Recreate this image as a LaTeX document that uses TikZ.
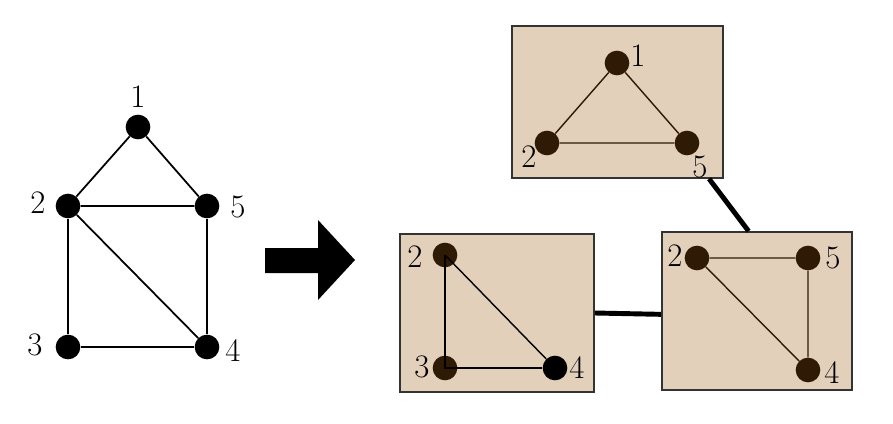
\documentclass[tikz,border=0pt]{standalone}
\usetikzlibrary{positioning}
\definecolor{tan}{HTML}{E3D0BA}
\definecolor{bark}{HTML}{2E1A05}

\begin{document}
\begin{tikzpicture}[
    x=0.03cm, y=-0.03cm,
    vtx/.style={circle, fill=black, inner sep=0pt, minimum size=0.74cm},
    bvtx/.style={vtx, fill=bark},
    lab/.style={inner sep=0pt, font=\fontsize{28}{30}\selectfont},
    panel/.style={draw=black!80, fill=tan, line width=1.4pt, rectangle, inner sep=0pt},
    edge/.style={line width=1.5pt},
    thin edge/.style={line width=1.2pt},
    link/.style={line width=4.2pt}
]
    \useasboundingbox (0,0) rectangle (893,424);

    % Original graph
    \node[vtx] (v1) at (138,127) {};
    \node[vtx] (v2) at (68,206) {};
    \node[vtx] (v5) at (207,206) {};
    \node[vtx] (v3) at (68,347) {};
    \node[vtx] (v4) at (207,347) {};
    \node[lab] (t1) at (138,97) {1};
    \node[lab] (t2) at (38,203) {2};
    \node[lab] (t5) at (238,207) {5};
    \node[lab] (t3) at (35,345) {3};
    \node[lab] (t4) at (233,351) {4};
    \draw[edge] (v1) -- (v2) -- (v5) -- (v1);
    \draw[edge] (v2) -- (v3) -- (v4) -- (v5);
    \draw[edge] (v2) -- (v4);

    % Block arrow
    \fill (265,248) -- (318,248) -- (318,220) -- (355,260) -- (318,300)
        -- (318,273) -- (265,273) -- cycle;

    % Clique panels
    \node[panel, minimum width=6.33cm, minimum height=4.56cm] (boxA) at (617.5,102) {};
    \node[panel, minimum width=5.82cm, minimum height=4.74cm] (boxB) at (497,313) {};
    \node[panel, minimum width=5.7cm, minimum height=4.74cm] (boxC) at (757,311) {};

    % Panel links
    \draw[link] (boxA.-40) -- (boxC.96);
    \draw[link] (boxB.east) -- (boxC.182);

    % Clique {1,2,5}
    \node[bvtx] (a1) at (617,63) {};
    \node[bvtx] (a2) at (547,143) {};
    \node[bvtx] (a5) at (687,143) {};
    \draw[thin edge, bark] (a1) -- (a2) -- (a5) -- (a1);
    \node[lab] (ta1) at (638,56) {1};
    \node[lab] (ta2) at (529,157) {2};
    \node[lab] (ta5) at (700,167) {5};

    % Clique {2,3,4}
    \node[bvtx] (b2) at (445,255) {};
    \node[bvtx] (b3) at (445,368) {};
    \node[vtx] (b4) at (555,368) {};
    \draw[thin edge] (b2.center) -- (b3.center) -- (b4);
    \draw[thin edge] (b2.center) -- (b4);
    \node[lab] (tb2) at (415,257) {2};
    \node[lab] (tb3) at (422,367) {3};
    \node[lab] (tb4) at (577,368) {4};

    % Clique {2,4,5}
    \node[bvtx] (c2) at (697,258) {};
    \node[bvtx] (c5) at (808,258) {};
    \node[bvtx] (c4) at (808,370) {};
    \draw[thin edge, bark] (c2) -- (c5) -- (c4) -- (c2);
    \node[lab] (tc2) at (675,256) {2};
    \node[lab] (tc5) at (833,258) {5};
    \node[lab] (tc4) at (832,373) {4};

\end{tikzpicture}
\end{document}
